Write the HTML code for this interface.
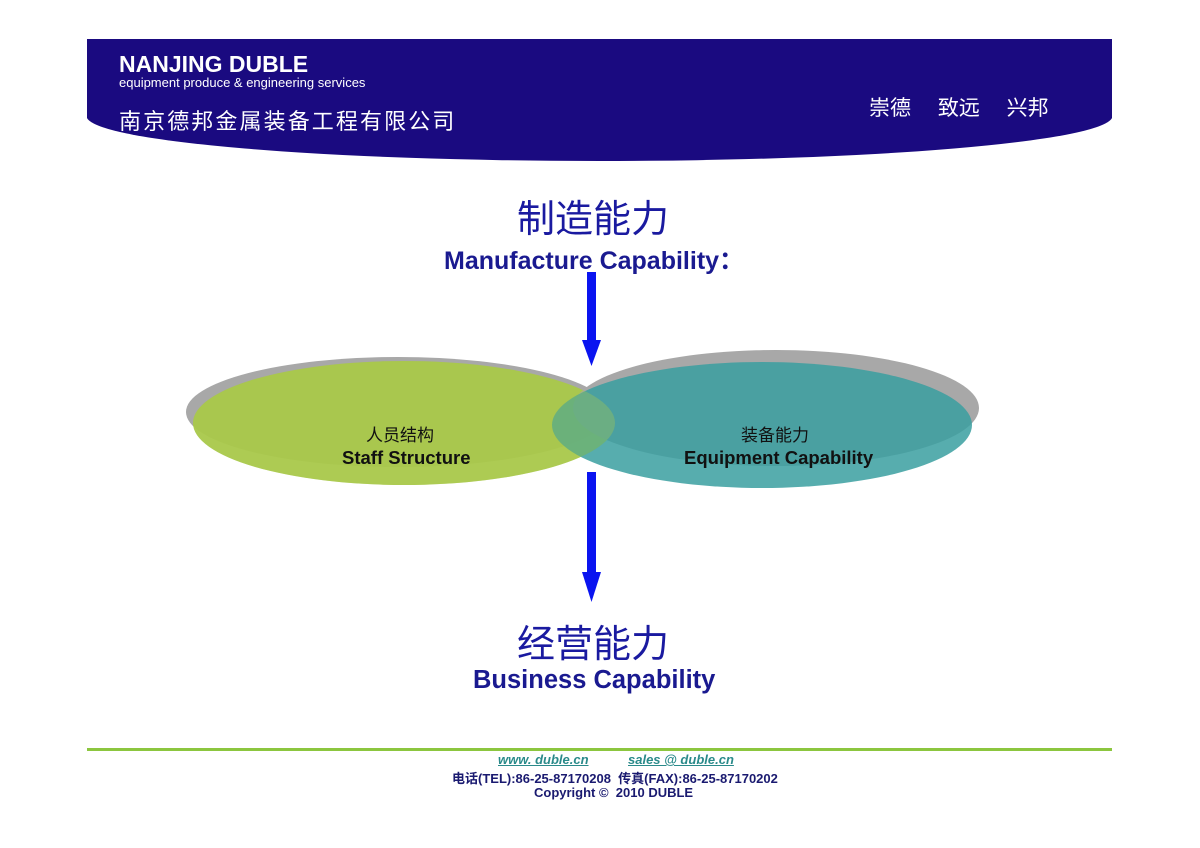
<!DOCTYPE html>
<html><head><meta charset="utf-8"><style>
body{margin:0;width:1200px;height:848px;background:#fff;overflow:hidden;position:relative;font-family:"Liberation Sans","Noto Sans CJK SC",sans-serif}
.t{position:absolute;white-space:nowrap}
</style></head><body>
<svg width="1200" height="848" style="position:absolute;left:0;top:0">
<path d="M87 39 H1112 V118 A513 45 0 0 1 87 118 Z" fill="#1a0a80"/>
<ellipse cx="398" cy="412" rx="212" ry="55" fill="#a8a8a8"/>
<ellipse cx="404" cy="423" rx="211" ry="62" fill="#a9c94a" opacity="0.92"/>
<ellipse cx="776" cy="408" rx="203" ry="58" fill="#a8a8a8"/>
<ellipse cx="762" cy="425" rx="210" ry="63" fill="#3a9fa0" opacity="0.85"/>
<ellipse cx="404" cy="423" rx="211" ry="62" fill="#a9c94a" opacity="0.35"/>
<rect x="587" y="272" width="9" height="70" fill="#0a14f0"/>
<polygon points="582,340 601,340 591.5,366" fill="#0a14f0"/>
<rect x="587" y="472" width="9" height="105" fill="#0a14f0"/>
<polygon points="582,572 601,572 591.5,602" fill="#0a14f0"/>
<rect x="87" y="748" width="1025" height="3" fill="#8cc63f"/>
</svg>
<div class="t" style="left:119px;top:51px;color:#fff;font-weight:bold;font-size:23px">NANJING DUBLE</div>
<div class="t" style="left:119px;top:75px;color:#fff;font-size:13px">equipment produce &amp; engineering services</div>
<div class="t" style="left:119px;top:104px;color:#fff;font-size:22px;letter-spacing:2.1px">南京德邦金属装备工程有限公司</div>
<div class="t" style="left:869px;top:92px;color:#fff;font-size:21px;word-spacing:21px">崇德 致远 兴邦</div>
<div class="t" style="left:517px;top:188px;color:#1a1aa0;font-size:38px">制造能力</div>
<div class="t" style="left:444px;top:241px;color:#1a1a90;font-weight:bold;font-size:25px">Manufacture Capability：</div>
<div class="t" style="left:366px;top:421px;color:#111;font-size:17px">人员结构</div>
<div class="t" style="left:342px;top:447px;color:#111;font-weight:bold;font-size:18.5px">Staff Structure</div>
<div class="t" style="left:741px;top:421px;color:#111;font-size:17px">装备能力</div>
<div class="t" style="left:684px;top:447px;color:#111;font-weight:bold;font-size:18.5px">Equipment Capability</div>
<div class="t" style="left:517px;top:613px;color:#1a1aa0;font-size:38px">经营能力</div>
<div class="t" style="left:473px;top:666px;color:#1a1a90;font-weight:bold;font-size:25.5px">Business Capability</div>
<div class="t" style="left:498px;top:752px;color:#2a8a8a;font-weight:bold;font-style:italic;font-size:13px;text-decoration:underline">www. duble.cn</div>
<div class="t" style="left:628px;top:752px;color:#2a8a8a;font-weight:bold;font-style:italic;font-size:13px;text-decoration:underline">sales @ duble.cn</div>
<div class="t" style="left:452px;top:768px;color:#1a1a70;font-weight:bold;font-size:13px">电话(TEL):86-25-87170208&nbsp; 传真(FAX):86-25-87170202</div>
<div class="t" style="left:534px;top:785px;color:#1a1a70;font-weight:bold;font-size:13px">Copyright ©&nbsp; 2010 DUBLE</div>
</body></html>
